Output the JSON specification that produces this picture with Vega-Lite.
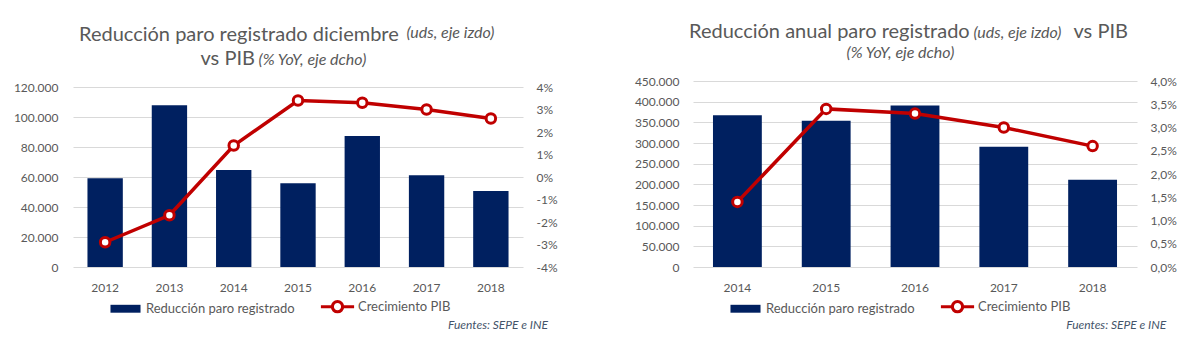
{
  "$schema": "https://vega.github.io/schema/vega-lite/v6.json",
  "padding": {"left": 13, "top": 21, "right": 0, "bottom": 0},
  "background": "white",
  "spacing": 76,
  "config": {
    "locale": {"number": {"decimal": ",", "thousands": ".", "grouping": [3], "currency": ["", " €"], "minus": "-"}},
    "font": "Lato",
    "view": {"stroke": null},
    "axis": {"labelFont": "Lato", "labelFontSize": 12, "labelColor": "#595959", "ticks": false, "domain": false, "gridColor": "#D9D9D9", "gridWidth": 1, "titleFont": "Lato", "titleColor": "#595959", "titleFontWeight": "normal"},
    "legend": {"layout": {"bottom": {"anchor": "middle"}}},
    "title": {"font": "Lato", "color": "#595959", "fontWeight": "normal"}
  },
  "hconcat": [
    {
      "title": {"text": "Fuentes: SEPE e INE", "orient": "bottom", "anchor": "end", "frame": "bounds", "fontStyle": "italic", "fontSize": 12, "color": "#44546A", "offset": 2, "dx": -9},
      "vconcat": [
        {
          "width": 450,
          "height": 186,
          "title": {"text": "Reducción paro registrado diciembre", "anchor": "start", "frame": "group", "dx": 6, "dy": 37, "offset": 0, "baseline": "alphabetic", "fontSize": 20},
          "data": {"values": [
            {"year": "2012", "paro": 59200, "pib": -0.029},
            {"year": "2013", "paro": 107900, "pib": -0.017},
            {"year": "2014", "paro": 64600, "pib": 0.014},
            {"year": "2015", "paro": 55800, "pib": 0.034},
            {"year": "2016", "paro": 87300, "pib": 0.033},
            {"year": "2017", "paro": 61200, "pib": 0.030},
            {"year": "2018", "paro": 50700, "pib": 0.026}
          ]},
          "encoding": {
            "x": {"field": "year", "type": "nominal", "scale": {"paddingInner": 0.45, "paddingOuter": 0.225},
              "axis": {"labelAngle": 0, "labelPadding": 15, "title": "vs PIB", "titleX": 127, "titleY": -203, "titleAlign": "left", "titleBaseline": "alphabetic", "titleFontSize": 20}}
          },
          "layer": [
            {
              "mark": {"type": "bar"},
              "encoding": {
                "y": {"field": "paro", "type": "quantitative", "scale": {"domain": [0, 124000]},
                  "axis": {"orient": "left", "values": [0, 20000, 40000, 60000, 80000, 100000, 120000], "format": ",.0f", "grid": true, "labelPadding": 15, "title": "(uds, eje izdo)", "titleAngle": 0, "titleX": 333, "titleY": -44, "titleAlign": "left", "titleBaseline": "alphabetic", "titleFontStyle": "italic", "titleFontSize": 16}},
                "color": {"datum": "Reducción paro registrado", "scale": {"domain": ["Reducción paro registrado", "Crecimiento PIB"], "range": ["#002060", "#C00000"]},
                  "legend": {"title": null, "orient": "bottom", "direction": "horizontal", "offset": 7, "symbolSize": 1000, "labelFontSize": 13, "labelColor": "#595959", "labelFont": "Lato", "columnPadding": 19, "labelOffset": 14,
                    "encode": {"symbols": {"update": {
                      "shape": {"signal": "datum.value === 'Crecimiento PIB' ? 'M-1.05,0H-0.33M0.33,0A0.33,0.33 0 1 1 -0.33,0A0.33,0.33 0 1 1 0.33,0ZM0.32,0A0.32,0.32 0 1 0 -0.32,0A0.32,0.32 0 1 0 0.32,0ZM0.33,0H1.05' : 'M-0.95,-0.25H0.95V0.25H-0.95Z'"},
                      "fill": {"signal": "datum.value === 'Crecimiento PIB' ? '#ffffff' : '#002060'"},
                      "stroke": {"signal": "datum.value === 'Crecimiento PIB' ? '#C00000' : '#002060'"},
                      "strokeWidth": {"signal": "datum.value === 'Crecimiento PIB' ? 3 : 0"},
                      "opacity": {"value": 1}
                    }}}}}
              }
            },
            {
              "encoding": {
                "y": {"field": "pib", "type": "quantitative", "scale": {"domain": [-0.04, 0.042667]},
                  "axis": {"orient": "right", "values": [-0.04, -0.03, -0.02, -0.01, 0, 0.01, 0.02, 0.03, 0.04], "format": ".0%", "grid": false, "labelPadding": 13, "title": "(% YoY, eje dcho)", "titleAngle": 0, "titleX": -265, "titleY": -17, "titleAlign": "left", "titleBaseline": "alphabetic", "titleFontStyle": "italic", "titleFontSize": 16}}
              },
              "layer": [
                {"mark": {"type": "line", "strokeWidth": 3.5}, "encoding": {"color": {"datum": "Crecimiento PIB", "scale": {"domain": ["Reducción paro registrado", "Crecimiento PIB"], "range": ["#002060", "#C00000"]}}}},
                {"mark": {"type": "point", "filled": true, "fill": "white", "stroke": "#C00000", "strokeWidth": 3, "size": 90, "opacity": 1}}
              ]
            }
          ],
          "resolve": {"scale": {"y": "independent"}}
        }
      ]
    },
    {
      "title": {"text": "Fuentes: SEPE e INE", "orient": "bottom", "anchor": "end", "frame": "bounds", "fontStyle": "italic", "fontSize": 12, "color": "#44546A", "offset": 2, "dx": -10},
      "vconcat": [
        {
          "width": 444,
          "height": 186,
          "title": {"text": "Reducción anual paro registrado", "anchor": "start", "frame": "group", "dx": -4, "dy": 37, "offset": 0, "baseline": "alphabetic", "fontSize": 20},
          "data": {"values": [
            {"year": "2014", "paro": 367000, "pib": 0.014},
            {"year": "2015", "paro": 354000, "pib": 0.034},
            {"year": "2016", "paro": 391000, "pib": 0.033},
            {"year": "2017", "paro": 291000, "pib": 0.030},
            {"year": "2018", "paro": 211000, "pib": 0.026}
          ]},
          "encoding": {
            "x": {"field": "year", "type": "nominal", "scale": {"paddingInner": 0.45, "paddingOuter": 0.225},
              "axis": {"labelAngle": 0, "labelPadding": 15, "title": "vs PIB", "titleX": 380, "titleY": -230, "titleAlign": "left", "titleBaseline": "alphabetic", "titleFontSize": 20}}
          },
          "layer": [
            {
              "mark": {"type": "bar"},
              "encoding": {
                "y": {"field": "paro", "type": "quantitative", "scale": {"domain": [0, 450000]},
                  "axis": {"orient": "left", "values": [0, 50000, 100000, 150000, 200000, 250000, 300000, 350000, 400000, 450000], "format": ",.0f", "grid": true, "labelPadding": 14, "title": "(uds, eje izdo)", "titleAngle": 0, "titleX": 280, "titleY": -44, "titleAlign": "left", "titleBaseline": "alphabetic", "titleFontStyle": "italic", "titleFontSize": 16}},
                "color": {"datum": "Reducción paro registrado", "scale": {"domain": ["Reducción paro registrado", "Crecimiento PIB"], "range": ["#002060", "#C00000"]},
                  "legend": {"title": null, "orient": "bottom", "direction": "horizontal", "offset": 7, "symbolSize": 1000, "labelFontSize": 13, "labelColor": "#595959", "labelFont": "Lato", "columnPadding": 19, "labelOffset": 14,
                    "encode": {"symbols": {"update": {
                      "shape": {"signal": "datum.value === 'Crecimiento PIB' ? 'M-1.05,0H-0.33M0.33,0A0.33,0.33 0 1 1 -0.33,0A0.33,0.33 0 1 1 0.33,0ZM0.32,0A0.32,0.32 0 1 0 -0.32,0A0.32,0.32 0 1 0 0.32,0ZM0.33,0H1.05' : 'M-0.95,-0.25H0.95V0.25H-0.95Z'"},
                      "fill": {"signal": "datum.value === 'Crecimiento PIB' ? '#ffffff' : '#002060'"},
                      "stroke": {"signal": "datum.value === 'Crecimiento PIB' ? '#C00000' : '#002060'"},
                      "strokeWidth": {"signal": "datum.value === 'Crecimiento PIB' ? 3 : 0"},
                      "opacity": {"value": 1}
                    }}}}}
              }
            },
            {
              "encoding": {
                "y": {"field": "pib", "type": "quantitative", "scale": {"domain": [0, 0.04]},
                  "axis": {"orient": "right", "values": [0, 0.005, 0.01, 0.015, 0.02, 0.025, 0.03, 0.035, 0.04], "format": ".1%", "grid": false, "labelPadding": 13, "title": "(% YoY, eje dcho)", "titleAngle": 0, "titleX": -291, "titleY": -24, "titleAlign": "left", "titleBaseline": "alphabetic", "titleFontStyle": "italic", "titleFontSize": 16}}
              },
              "layer": [
                {"mark": {"type": "line", "strokeWidth": 3.5}, "encoding": {"color": {"datum": "Crecimiento PIB", "scale": {"domain": ["Reducción paro registrado", "Crecimiento PIB"], "range": ["#002060", "#C00000"]}}}},
                {"mark": {"type": "point", "filled": true, "fill": "white", "stroke": "#C00000", "strokeWidth": 3, "size": 90, "opacity": 1}}
              ]
            }
          ],
          "resolve": {"scale": {"y": "independent"}}
        }
      ]
    }
  ],
  "resolve": {"legend": {"color": "independent"}, "scale": {"color": "independent"}}
}
